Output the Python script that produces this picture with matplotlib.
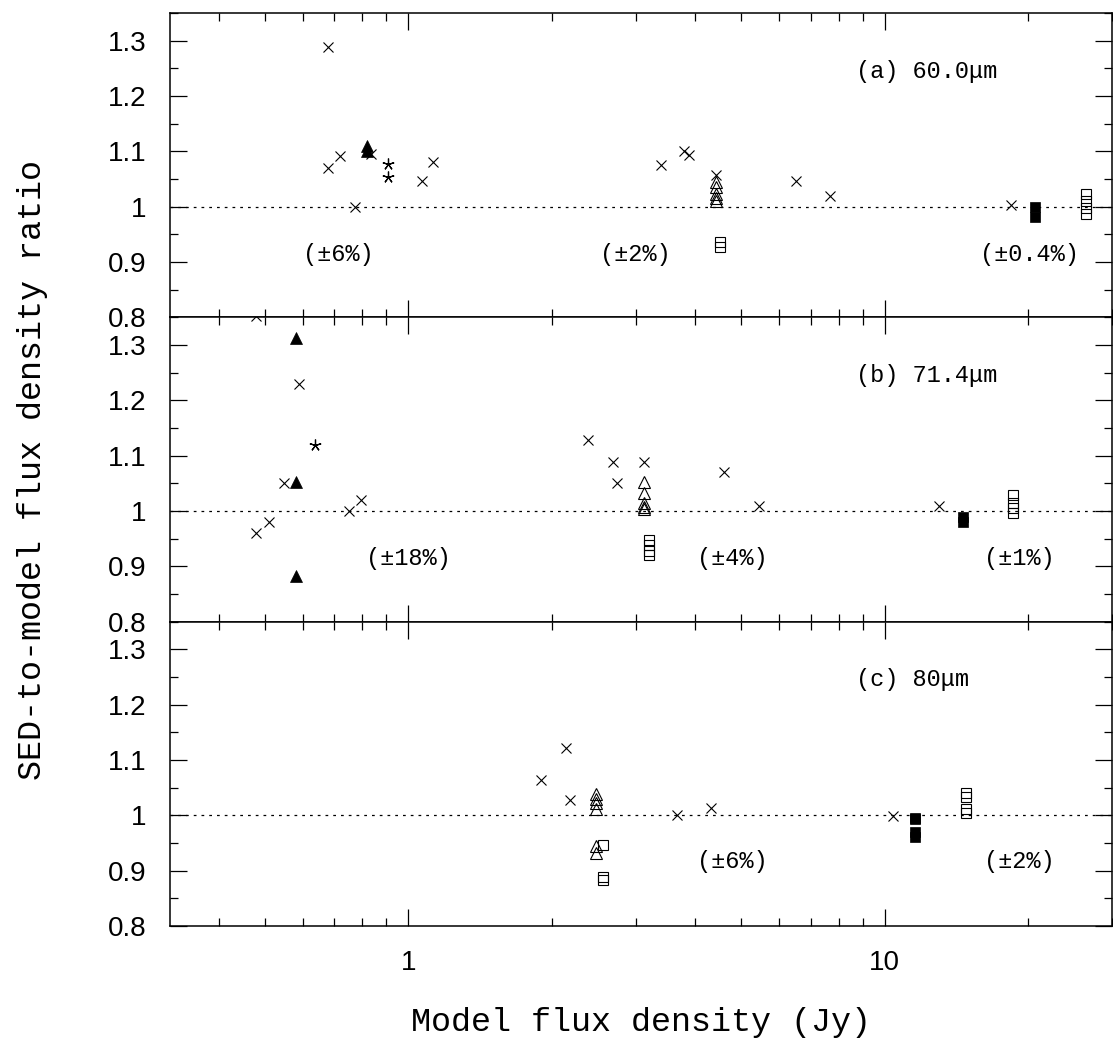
import numpy as np
import matplotlib
matplotlib.use("Agg")
import matplotlib.pyplot as plt
from matplotlib.ticker import FixedLocator, MultipleLocator, LogLocator, NullFormatter

# -----------------------
# Data: panel (a) 60.0 um
# -----------------------
a_cross_x = [0.679, 0.679, 0.718, 0.836, 0.774, 1.068, 1.127, 3.39, 3.79, 3.89, 4.42, 6.5, 7.67, 18.4]
a_cross_y = [1.289, 1.070, 1.091, 1.096, 1.000, 1.046, 1.081, 1.076, 1.101, 1.094, 1.057, 1.046, 1.020, 1.003]
a_star_x = [0.906, 0.906]
a_star_y = [1.077, 1.053]
a_ftri_x = [0.819, 0.819]
a_ftri_y = [1.109, 1.100]
a_otri_x = [4.42, 4.42, 4.42, 4.42, 4.42]
a_otri_y = [1.045, 1.035, 1.022, 1.016, 1.010]
a_osq_x = [4.52, 4.52, 26.4, 26.4, 26.4, 26.4]
a_osq_y = [0.937, 0.928, 1.023, 1.011, 0.998, 0.986]
a_fsq_x = [20.7, 20.7]
a_fsq_y = [0.999, 0.982]

# -----------------------
# Data: panel (b) 71.4 um
# -----------------------
b_cross_x = [0.48, 0.589, 0.548, 0.48, 0.51, 0.75, 0.797, 2.38, 2.69, 3.12, 2.74, 4.6, 5.45, 13.0]
b_cross_y = [1.352, 1.229, 1.050, 0.960, 0.980, 1.000, 1.020, 1.129, 1.089, 1.089, 1.050, 1.070, 1.009, 1.009]
b_star_x = [0.638]
b_star_y = [1.119]
b_ftri_x = [0.58, 0.58, 0.58]
b_ftri_y = [1.312, 1.053, 0.883]
b_otri_x = [3.12, 3.12, 3.12, 3.12, 3.12]
b_otri_y = [1.053, 1.032, 1.014, 1.008, 1.003]
b_osq_x = [3.2, 3.2, 3.2, 3.2, 18.6, 18.6, 18.6, 18.6]
b_osq_y = [0.948, 0.939, 0.927, 0.921, 1.029, 1.014, 1.005, 0.997]
b_fsq_x = [14.6, 14.6]
b_fsq_y = [0.990, 0.980]

# -----------------------
# Data: panel (c) 80 um
# -----------------------
c_cross_x = [2.14, 1.90, 2.19, 3.67, 4.33, 10.4]
c_cross_y = [1.121, 1.063, 1.028, 1.000, 1.014, 0.999]
c_star_x = []
c_star_y = []
c_ftri_x = []
c_ftri_y = []
c_otri_x = [2.48, 2.48, 2.48, 2.48, 2.48, 2.48]
c_otri_y = [1.038, 1.029, 1.022, 1.011, 0.945, 0.932]
c_osq_x = [2.56, 2.56, 2.56, 14.8, 14.8, 14.8, 14.8]
c_osq_y = [0.946, 0.888, 0.884, 1.040, 1.034, 1.011, 1.005]
c_fsq_x = [11.6, 11.6, 11.6, 11.6]
c_fsq_y = [0.996, 0.993, 0.969, 0.961]

panel_labels = ["(a) 60.0\u03bcm", "(b) 71.4\u03bcm", "(c) 80\u03bcm"]
pct_labels = [["(\u00b16%)", "(\u00b12%)", "(\u00b10.4%)"],
              ["(\u00b118%)", "(\u00b14%)", "(\u00b11%)"],
              ["(\u00b16%)", "(\u00b12%)"]]
pct_x = [[0.713, 3.0, 20.1],
         [1.0, 4.8, 19.2],
         [4.8, 19.2]]

y_ticks = [0.8, 0.9, 1.0, 1.1, 1.2, 1.3]
y_ticklabels = ["0.8", "0.9", "1", "1.1", "1.2", "1.3"]

panels = [
    (a_cross_x, a_cross_y, a_star_x, a_star_y, a_ftri_x, a_ftri_y,
     a_otri_x, a_otri_y, a_osq_x, a_osq_y, a_fsq_x, a_fsq_y),
    (b_cross_x, b_cross_y, b_star_x, b_star_y, b_ftri_x, b_ftri_y,
     b_otri_x, b_otri_y, b_osq_x, b_osq_y, b_fsq_x, b_fsq_y),
    (c_cross_x, c_cross_y, c_star_x, c_star_y, c_ftri_x, c_ftri_y,
     c_otri_x, c_otri_y, c_osq_x, c_osq_y, c_fsq_x, c_fsq_y),
]

SERIF = "Liberation Mono"
SANS = "Liberation Sans"

# -----------------------
# Figure setup
# -----------------------
W, H = 1113, 1041
fig = plt.figure(figsize=(W / 100, H / 100), dpi=100)

left = 170 / W
width = 942 / W
bottom = 1 - 926 / H
ph = (926 - 13) / H / 3

axes = []
for i in range(3):
    ax = fig.add_axes([left, bottom + (2 - i) * ph, width, ph],
                      sharex=axes[0] if axes else None)
    axes.append(ax)

for i, ax in enumerate(axes):
    (cx, cy, sx, sy, ftx, fty, otx, oty, osx, osy, fsx, fsy) = panels[i]

    ax.axhline(1.0, color="black", lw=0.9, ls=(0, (2.2, 4.0)), zorder=1)

    ax.plot(cx, cy, ls="none", marker="x", ms=7, mew=0.8, color="black")
    if sx:
        ax.plot(sx, sy, ls="none", marker=(5, 2, 0), ms=8.5, mew=0.9, color="black")
    if ftx:
        ax.plot(ftx, fty, ls="none", marker="^", ms=8, color="black", mew=0.5)
    ax.plot(otx, oty, ls="none", marker="^", ms=8.5, mfc="none", mec="black", mew=0.8)
    ax.plot(osx, osy, ls="none", marker="s", ms=7.5, mfc="none", mec="black", mew=0.8)
    ax.plot(fsx, fsy, ls="none", marker="s", ms=7.2, color="black", mew=0.5)

    ax.text(8.7, 1.245, panel_labels[i], fontsize=17, family=SERIF,
            ha="left", va="center")
    y_pct = [0.913, 0.915, 0.917][i]
    for lab, xp in zip(pct_labels[i], pct_x[i]):
        ax.text(xp, y_pct, lab, fontsize=17, family=SERIF, ha="center", va="center")

    ax.set_xscale("log")
    ax.set_xlim(10 ** -0.5, 30)
    ax.set_ylim(0.8, 1.35)

    ax.yaxis.set_major_locator(FixedLocator(y_ticks))
    ax.set_yticklabels(y_ticklabels, family=SANS, fontsize=20)
    ax.yaxis.set_minor_locator(MultipleLocator(0.05))

    ax.tick_params(which="both", direction="in", top=True, right=True, width=0.9)
    ax.tick_params(which="major", length=12.5, pad=17)
    ax.tick_params(which="minor", length=6)
    for sp in ax.spines.values():
        sp.set_linewidth(1.1)

    if i < 2:
        ax.tick_params(labelbottom=False)

ax = axes[-1]
ax.xaxis.set_major_locator(FixedLocator([1, 10]))
ax.xaxis.set_minor_locator(LogLocator(base=10, subs=np.arange(2, 10)))
ax.xaxis.set_minor_formatter(NullFormatter())
ax.set_xticklabels(["1", "10"], family=SANS, fontsize=20)

fig.text(641 / W, 1 - 1031 / H, "Model flux density (Jy)", family=SERIF,
         fontsize=24, ha="center", va="baseline")
fig.text(33 / W, 1 - 469.5 / H, "SED-to-model flux density ratio", family=SERIF,
         fontsize=24, rotation=90, ha="center", va="center")

fig.savefig("out.png", dpi=100)
